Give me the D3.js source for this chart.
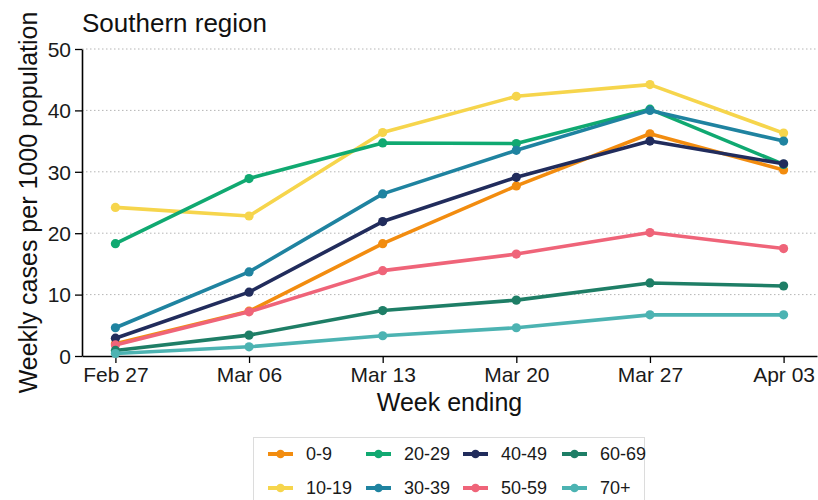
<!DOCTYPE html>
<html>
<head>
<meta charset="utf-8">
<script src="https://cdn.jsdelivr.net/npm/d3@7"></script>
<style>
  html, body { margin: 0; padding: 0; background: #fff; }
  svg { display: block; font-family: "Liberation Sans", Arial, sans-serif; }
</style>
</head>
<body>
<svg id="chart" width="818" height="500"></svg>
<script>
// Week-ending dates and weekly cases per 1000 population, by age group
const weeks = ["2021-02-27", "2021-03-06", "2021-03-13", "2021-03-20", "2021-03-27", "2021-04-03"];
const weekLabels = ["Feb 27", "Mar 06", "Mar 13", "Mar 20", "Mar 27", "Apr 03"];
const ageGroups = ["0-9", "10-19", "20-29", "30-39", "40-49", "50-59", "60-69", "70+"];
const age0to9   = [2.0, 7.3, 18.3, 27.7, 36.2, 30.3];
const age10to19 = [24.2, 22.8, 36.4, 42.3, 44.2, 36.3];
const age20to29 = [18.3, 28.9, 34.7, 34.6, 40.2, 31.2];
const age30to39 = [4.6, 13.7, 26.4, 33.5, 40.0, 35.0];
const age40to49 = [2.9, 10.4, 21.9, 29.1, 35.0, 31.3];
const age50to59 = [1.8, 7.2, 13.9, 16.6, 20.1, 17.5];
const age60to69 = [0.9, 3.4, 7.4, 9.1, 11.9, 11.4];
const age70plus = [0.4, 1.5, 3.3, 4.6, 6.7, 6.7];
const yTicks = [0, 10, 20, 30, 40, 50];
const colors = ["#F28C0F", "#F6D54C", "#10A971", "#1F83A0", "#212C5C", "#EF6479", "#1E7E66", "#4CB3B2"];

const seriesValues = [age0to9, age10to19, age20to29, age30to39, age40to49, age50to59, age60to69, age70plus];
const parse = d3.timeParse("%Y-%m-%d");
const dates = weeks.map(parse);
const series = ageGroups.map((g, i) => ({
  group: g,
  color: colors[i],
  points: dates.map((d, j) => ({ date: d, value: seriesValues[i][j] }))
}));

const svg = d3.select("#chart");
const plotLeft = 82, plotRight = 817, plotTop = 49, plotBottom = 356;

// 5% padding either side of the date range
const span = dates[dates.length - 1] - dates[0];
const x = d3.scaleTime()
  .domain([new Date(+dates[0] - span * 0.05), new Date(+dates[dates.length - 1] + span * 0.05)])
  .range([plotLeft, plotRight]);
const y = d3.scaleLinear().domain([0, 50]).range([plotBottom, plotTop]);

// horizontal dotted grid
svg.append("g")
  .selectAll("line")
  .data(yTicks.filter(t => t > 0))
  .join("line")
  .attr("x1", plotLeft).attr("x2", plotRight)
  .attr("y1", d => y(d)).attr("y2", d => y(d))
  .attr("stroke", "#b5b5b5")
  .attr("stroke-width", 1)
  .attr("stroke-dasharray", "1.5,2.5");

// axes
const xAxis = svg.append("g")
  .attr("transform", `translate(0,${plotBottom})`)
  .call(d3.axisBottom(x).tickValues(dates).tickFormat((d, i) => weekLabels[i]).tickSize(7).tickSizeOuter(0));
const yAxis = svg.append("g")
  .attr("transform", `translate(${plotLeft},0)`)
  .call(d3.axisLeft(y).tickValues(yTicks).tickSize(7).tickSizeOuter(0));
[xAxis, yAxis].forEach(a => {
  a.select(".domain").attr("stroke", "#000").attr("stroke-width", 1.6);
  a.selectAll(".tick line").attr("stroke", "#000").attr("stroke-width", 1.3);
  a.selectAll(".tick text").attr("fill", "#1a1a1a").attr("font-size", 21)
    .attr("font-family", "Liberation Sans, Arial, sans-serif");
});
xAxis.selectAll(".tick text").attr("dy", "0.71em").attr("y", 11);
yAxis.selectAll(".tick text").attr("x", -11).attr("dy", "0.35em");

// series lines and points
const line = d3.line().x(d => x(d.date)).y(d => y(d.value));
const layers = svg.append("g").selectAll("g").data(series).join("g");
layers.append("path")
  .attr("d", d => line(d.points))
  .attr("fill", "none")
  .attr("stroke", d => d.color)
  .attr("stroke-width", 3.6)
  .attr("stroke-linejoin", "round");
layers.selectAll("circle")
  .data(d => d.points.map(p => ({ ...p, color: d.color })))
  .join("circle")
  .attr("cx", d => x(d.date)).attr("cy", d => y(d.value))
  .attr("r", 4.6)
  .attr("fill", d => d.color);

// titles
svg.append("text").attr("x", 82).attr("y", 32)
  .attr("font-size", 26).attr("fill", "#111").text("Southern region");
svg.append("text").attr("x", (plotLeft + plotRight) / 2).attr("y", 411)
  .attr("text-anchor", "middle").attr("font-size", 25).attr("fill", "#111").text("Week ending");
svg.append("text")
  .attr("transform", `translate(37,${(plotTop + plotBottom) / 2}) rotate(-90)`)
  .attr("text-anchor", "middle").attr("font-size", 25).attr("fill", "#111")
  .text("Weekly cases per 1000 population");

// legend
const legend = svg.append("g");
legend.append("rect")
  .attr("x", 253.5).attr("y", 437.5).attr("width", 391).attr("height", 80)
  .attr("fill", "#fff").attr("stroke", "#dcdcdc").attr("stroke-width", 1);
const colX = [268, 366, 463, 562];
const rowY = [454, 488];
const items = legend.selectAll("g").data(series).join("g")
  .attr("transform", (d, i) => `translate(${colX[Math.floor(i / 2)]},${rowY[i % 2]})`);
items.append("line").attr("x1", 0).attr("x2", 25)
  .attr("stroke", d => d.color).attr("stroke-width", 4);
items.append("circle").attr("cx", 12.5).attr("r", 4.3).attr("fill", d => d.color);
items.append("text").attr("x", 38).attr("dy", "0.35em")
  .attr("font-size", 18).attr("fill", "#1a1a1a").text(d => d.group);
</script>
</body>
</html>
